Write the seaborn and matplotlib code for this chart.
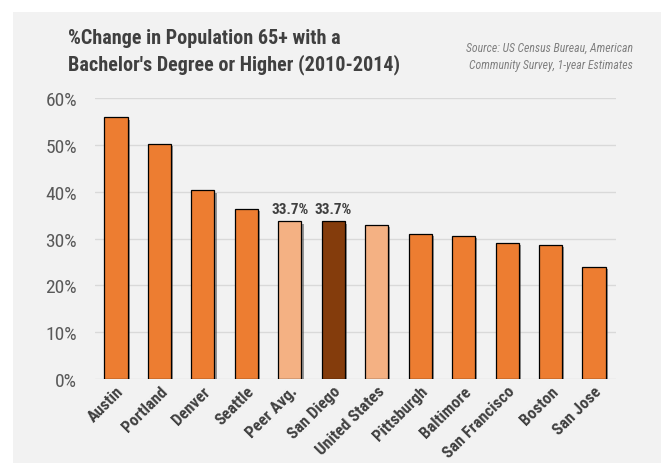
import matplotlib
matplotlib.use("Agg")
import matplotlib.pyplot as plt
import matplotlib.patheffects as pe
from matplotlib import font_manager
from matplotlib.patches import Rectangle
from matplotlib.ticker import PercentFormatter
import seaborn as sns
import pandas as pd

cities = ["Austin", "Portland", "Denver", "Seattle", "Peer Avg.", "San Diego",
          "United States", "Pittsburgh", "Baltimore", "San Francisco", "Boston", "San Jose"]
pct_change = [55.9, 50.2, 40.3, 36.3, 33.7, 33.7, 32.9, 31.1, 30.6, 29.1, 28.6, 23.9]
labeled = ["Peer Avg.", "San Diego"]

ORANGE = "#ED7D31"
LIGHT = "#F4B183"
DARK = "#843C0C"
colors = {c: ORANGE for c in cities}
colors["Peer Avg."] = LIGHT
colors["United States"] = LIGHT
colors["San Diego"] = DARK

df = pd.DataFrame({"city": cities, "pct": [v / 100 for v in pct_change]})

# pick a narrow family if one is installed
installed = {f.name for f in font_manager.fontManager.ttflist}
narrow = [n for n in ["Roboto Condensed", "Liberation Sans Narrow", "DejaVu Sans Condensed",
                      "Open Sans Condensed"] if n in installed]
family = (narrow[:1] or []) + ["Roboto", "DejaVu Sans"]

sns.set_theme(style="white")
plt.rcParams["font.family"] = family
plt.rcParams["font.stretch"] = "condensed"

W, H = 661, 464
fig = plt.figure(figsize=(W / 100, H / 100), dpi=100, facecolor="white")
fig.patches.append(Rectangle((13 / W, 0), 1 - 13 / W, 1 - 13 / H, transform=fig.transFigure,
                             facecolor="#F2F2F2", edgecolor="none", zorder=-10))

ax = fig.add_axes([95 / W, 1 - 380 / H, (616 - 95) / W, (380 - 99.3) / H])
ax.set_facecolor("none")
ax.set_zorder(1)

sns.barplot(data=df, x="city", y="pct", hue="city", palette=colors, legend=False,
            saturation=1, width=0.53, edgecolor="black", linewidth=0.9, ax=ax, zorder=3)

for bar in ax.patches:
    bar.set_path_effects([pe.SimplePatchShadow(offset=(1.6, -1.6), shadow_rgbFace="#555555", alpha=0.6),
                          pe.Normal()])

for i, (c, v) in enumerate(zip(cities, pct_change)):
    if c in labeled:
        ax.text(i, v / 100 + 0.012, f"{v:.1f}%", ha="center", va="bottom",
                fontsize=11, fontweight="bold", color="#404040")

ax.set_ylim(0, 0.6)
ax.set_xlim(-0.483, 11.506)
ax.set_yticks([0, 0.1, 0.2, 0.3, 0.4, 0.5, 0.6])
ax.yaxis.set_major_formatter(PercentFormatter(1.0, decimals=0))
ax.grid(axis="y", color="#D9D9D9", linewidth=1.0, zorder=0)
ax.set_axisbelow(True)
for s in ax.spines.values():
    s.set_visible(False)
ax.tick_params(axis="y", length=0, pad=13, labelsize=14, labelcolor="#595959")
ax.tick_params(axis="x", length=0, pad=3)
ax.set_xlabel("")
ax.set_ylabel("")
ax.set_xticks(range(len(cities)))
ax.set_xticklabels(cities, rotation=45, ha="right", rotation_mode="anchor",
                   fontsize=12, fontweight="bold", color="#404040")

fig.text(68 / W, 1 - 52 / H, "%Change in Population 65+ with a\nBachelor's Degree or Higher (2010-2014)",
         ha="left", va="center", fontsize=14.5, fontweight="bold", color="#404040", linespacing=1.35)
fig.text(633 / W, 1 - 57 / H, "Source: US Census Bureau, American\nCommunity Survey, 1-year Estimates",
         ha="right", va="center", fontsize=8.5, style="italic", color="#7F7F7F", linespacing=1.5)

fig.savefig("out.png", dpi=100, facecolor="white")
